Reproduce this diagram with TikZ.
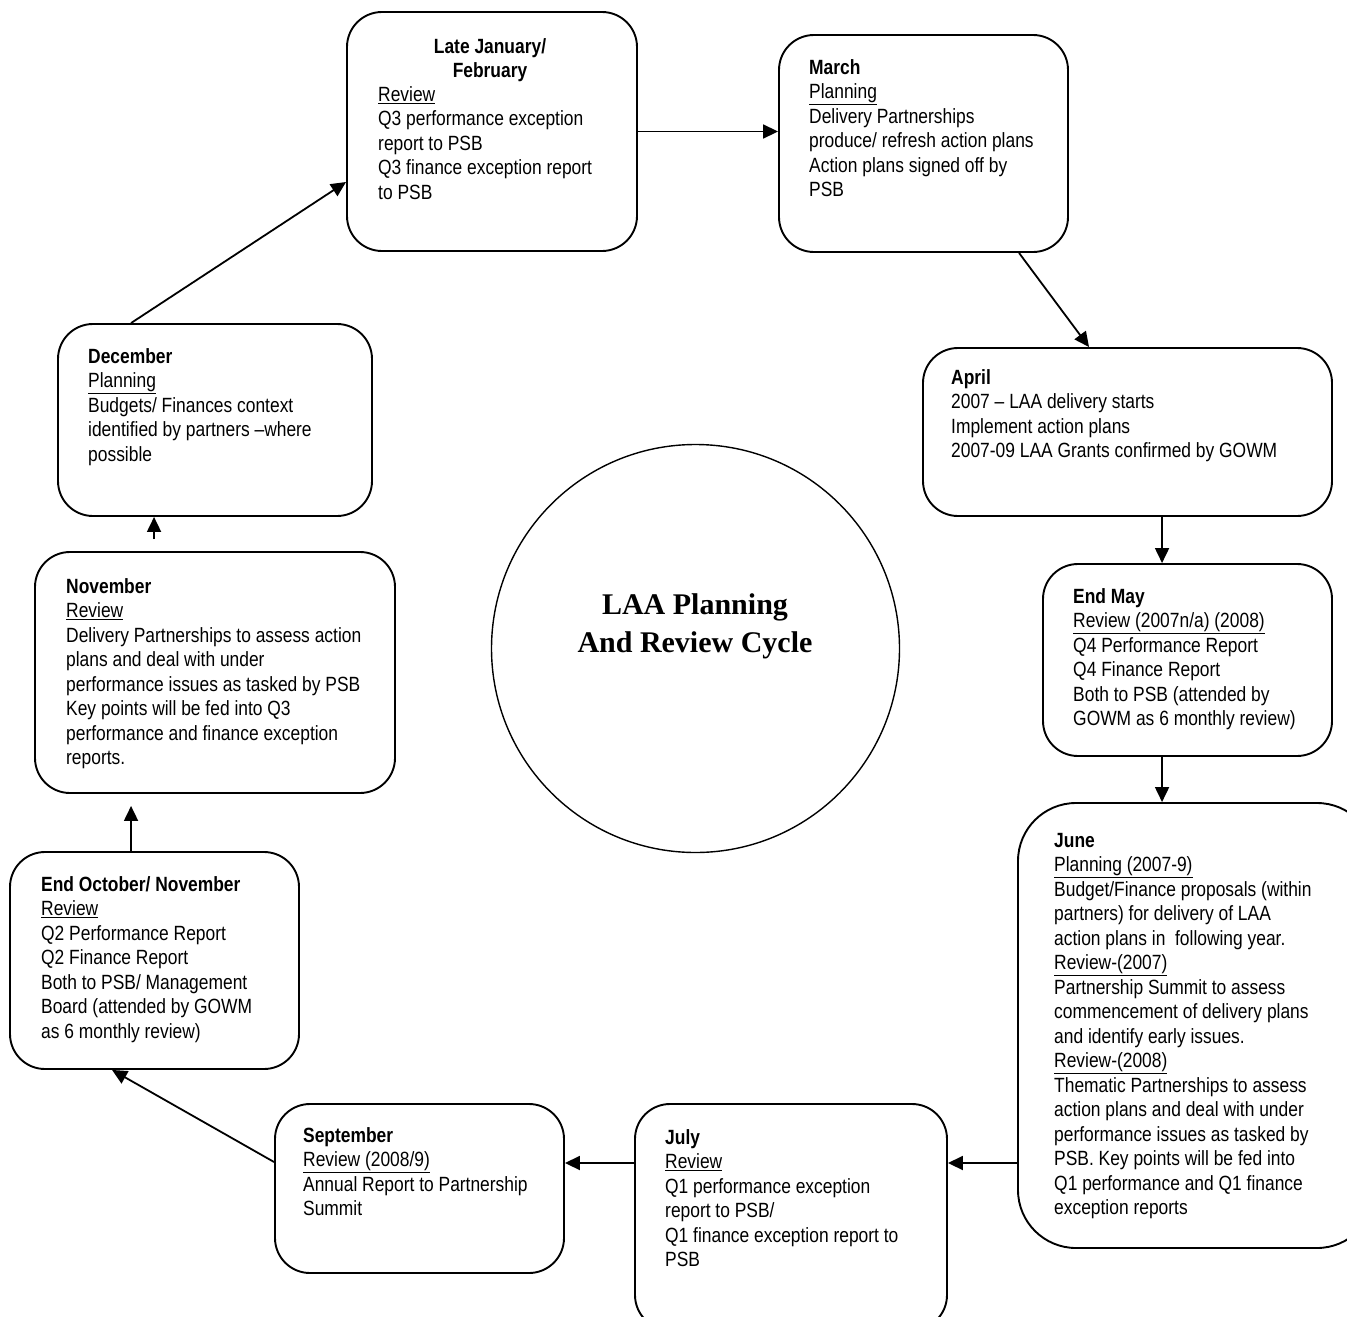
\documentclass[tikz,border=0pt]{standalone}
\usepackage{fontspec}
\setmainfont{Liberation Sans}[FakeStretch=0.845]
\newfontfamily\titlefont{Liberation Serif}
\usetikzlibrary{arrows.meta,calc}
\newcommand{\uln}[1]{\underline{#1}}
\tikzset{
  box/.style={draw, line width=1.9pt, rounded corners=35pt, inner sep=0pt},
  bigbox/.style={draw, line width=1.9pt, rounded corners=58pt, inner sep=0pt},
  txt/.style={anchor=north west, inner sep=0pt, align=left, font=\fontsize{20.6}{24.5}\selectfont},
  ctxt/.style={anchor=north, inner sep=0pt, align=center, font=\fontsize{20.6}{24.5}\selectfont\bfseries},
  arr/.style={line width=1.8pt, -{Triangle[length=15pt,width=14pt]}}
}
\begin{document}
\begin{tikzpicture}[x=1pt,y=-1pt]
\useasboundingbox (0,0) rectangle (1347,1317);
\clip (0,0) rectangle (1347,1317);
% boxes
\node[box, minimum width=290pt, minimum height=239pt] (jan) at (492,131.5) {};
\node[box, minimum width=289pt, minimum height=217pt] (mar) at (923.5,143.5) {};
\node[box, minimum width=409pt, minimum height=168pt] (apr) at (1127.5,432) {};
\node[box, minimum width=289pt, minimum height=192pt] (may) at (1187.5,660) {};
\node[bigbox, minimum width=357pt, minimum height=445pt] (jun) at (1196.5,1025.5) {};
\node[box, minimum width=312pt, minimum height=226pt] (jul) at (791,1217) {};
\node[box, minimum width=289pt, minimum height=169pt] (sep) at (419.5,1188.5) {};
\node[box, minimum width=289pt, minimum height=217pt] (oct) at (154.5,960.5) {};
\node[box, minimum width=360pt, minimum height=241pt] (nov) at (215,672.5) {};
\node[box, minimum width=314pt, minimum height=192pt] (dec) at (215,420) {};
\node[draw, circle, line width=1.4pt, minimum size=408pt, inner sep=0pt] (cyc) at (695.5,648.5) {};
\node[inner sep=0pt, align=center, font=\titlefont\bfseries\fontsize{30}{38}\selectfont] (title) at (695,626) {LAA Planning\\And Review Cycle};
% texts
\node[ctxt] (jantitle) at (490,38) {Late January/\\February};
\node[txt] (jantext) at (378,86) {\uln{Review}\\Q3 performance exception\\report to PSB\\Q3 finance exception report\\to PSB};
\node[txt] (martext) at (809,59) {\textbf{March}\\\uln{Planning}\\Delivery Partnerships\\produce/ refresh action plans\\Action plans signed off by\\PSB};
\node[txt] (aprtext) at (951,369) {\textbf{April}\\2007 – LAA delivery starts\\Implement action plans\\2007-09 LAA Grants confirmed by GOWM};
\node[txt] (maytext) at (1073,588) {\textbf{End May}\\\uln{Review (2007n/a) (2008)}\\Q4 Performance Report\\Q4 Finance Report\\Both to PSB (attended by\\GOWM as 6 monthly review)};
\node[txt] (juntext) at (1054,833) {\textbf{June}\\\uln{Planning (2007-9)}\\Budget/Finance proposals (within\\partners) for delivery of LAA\\action plans in\ \ following year.\\\uln{Review-(2007)}\\Partnership Summit to assess\\commencement of delivery plans\\and identify early issues.\\\uln{Review-(2008)}\\Thematic Partnerships to assess\\action plans and deal with under\\performance issues as tasked by\\PSB. Key points will be fed into\\Q1 performance and Q1 finance\\exception reports};
\node[txt] (jultext) at (665,1129) {\textbf{July}\\\uln{Review}\\Q1 performance exception\\report to PSB/\\Q1 finance exception report to\\PSB};
\node[txt] (septext) at (303,1127) {\textbf{September}\\\uln{Review (2008/9)}\\Annual Report to Partnership\\Summit};
\node[txt] (octtext) at (41,876) {\textbf{End October/ November}\\\uln{Review}\\Q2 Performance Report\\Q2 Finance Report\\Both to PSB/ Management\\Board (attended by GOWM\\as 6 monthly review)};
\node[txt] (novtext) at (66,578) {\textbf{November}\\\uln{Review}\\Delivery Partnerships to assess action\\plans and deal with under\\performance issues as tasked by PSB\\Key points will be fed into Q3\\performance and finance exception\\reports.};
\node[txt] (dectext) at (88,348) {\textbf{December}\\\uln{Planning}\\Budgets/ Finances context\\identified by partners –where\\possible};
% connectors
\draw[arr] (jan.east) -- (mar.west |- jan.east);
\draw[arr] ($(mar.south west)+(241,0)$) -- ($(apr.north west)+(167,0)$);
\draw[arr] ($(apr.south west)+(240,0)$) -- ($(may.north west)+(120,0)$);
\draw[arr] ($(may.south west)+(120,0)$) -- ($(jun.north west)+(145,0)$);
\draw[arr] (jun.west |- 0,1163) -- (jul.east |- 0,1163);
\draw[arr] (jul.west |- 0,1163) -- (sep.east |- 0,1163);
\draw[arr] (sep.west |- 0,1162) -- ($(oct.south west)+(103,0)$);
\draw[arr, shorten >=12pt] ($(oct.north west)+(122,0)$) -- ($(nov.south west)+(97,0)$);
\draw[arr, shorten <=12pt] ($(nov.north west)+(120,0)$) -- ($(dec.south west)+(97,0)$);
\draw[arr] ($(dec.north west)+(74,0)$) -- (jan.west |- 0,182);
\end{tikzpicture}
\end{document}
